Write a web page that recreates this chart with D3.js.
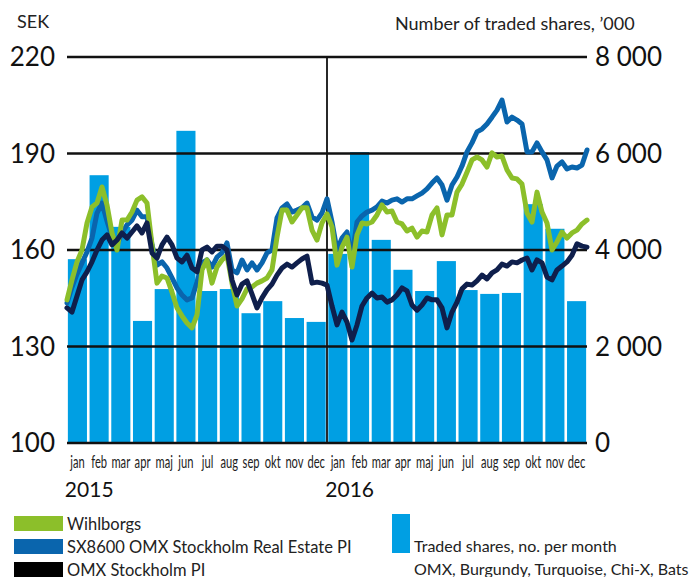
<!DOCTYPE html>
<html>
<head>
<meta charset="utf-8">
<script src="https://cdn.jsdelivr.net/npm/d3@7"></script>
<style>
  body { margin: 0; background: #fff; }
  svg { display: block; font-family: Lato, "Open Sans", sans-serif; }
</style>
</head>
<body>
<svg width="699" height="577"></svg>
<script>
const width = 699;
const height = 577;

const months = ["jan","feb","mar","apr","maj","jun","jul","aug","sep","okt","nov","dec",
                "jan","feb","mar","apr","maj","jun","jul","aug","sep","okt","nov","dec"];
const years = ["2015", "2016"];

// traded shares per month, '000
const traded = [3810, 5550, 4480, 2530, 3190, 6470, 3150, 3190, 2690, 2940, 2590, 2510,
                3920, 6030, 4210, 3590, 3150, 3770, 3170, 3090, 3110, 4950, 4440, 2940];

// weekly closes from 2 Jan 2015, SEK
const wihlborgs = [144.5,150.7,156.3,160.0,168.4,173.4,174.6,179.6,174.0,165.3,160.0,169.3,169.3,171.8,175.5,176.5,174.6,161.6,
  149.7,151.9,151.3,146.9,142.0,139.5,137.3,135.8,139.8,153.8,156.9,149.7,154.7,156.9,158.4,149.7,142.6,144.8,147.9,148.5,
  149.7,150.4,151.3,153.8,164.0,172.4,172.4,168.7,170.9,173.1,173.1,166.2,163.1,168.4,171.2,167.2,155.3,160.9,164.0,154.7,
  164.7,168.4,168.1,168.7,170.9,174.0,171.8,172.1,168.7,168.1,165.9,166.8,164.0,165.9,165.6,170.9,173.1,164.7,170.9,170.9,
  178.0,180.5,184.2,188.0,188.9,188.0,185.8,190.2,188.9,189.2,184.9,182.4,182.1,180.5,171.5,168.7,178.0,171.8,168.4,160.0,
  162.5,165.6,163.7,165.3,166.2,168.1,169.3];

const realEstate = [143.5,148.5,152.5,156.0,159.4,163.7,171.5,174.6,169.0,164.0,161.6,165.3,167.8,169.3,172.4,170.3,170.3,161.6,
  155.3,156.3,154.4,151.3,148.2,146.0,144.5,145.1,150.0,156.0,156.9,154.7,157.8,159.1,162.2,153.8,152.9,156.9,153.8,156.0,
  153.8,156.0,159.1,160.0,170.0,173.1,174.3,171.8,172.4,173.1,174.6,170.3,169.3,171.5,175.9,168.7,160.0,163.7,165.6,157.8,
  168.7,170.6,171.8,172.4,173.4,175.2,174.6,175.5,175.9,174.9,175.9,175.9,176.8,177.7,179.0,180.8,182.4,180.2,175.5,180.2,
  182.7,186.1,190.5,193.3,196.7,197.6,199.2,201.3,203.5,206.6,199.8,201.3,200.4,199.2,190.5,190.5,193.3,190.5,188.0,182.4,
  186.1,187.4,185.2,185.8,185.5,186.4,191.1];

const omx = [142.0,140.7,145.7,150.7,153.2,156.3,160.0,163.1,164.7,161.6,163.1,165.3,163.7,165.6,167.5,165.3,168.4,159.1,
  157.5,161.6,164.0,161.6,157.5,156.3,158.4,154.4,153.2,160.0,160.9,159.4,161.2,161.2,160.0,150.7,146.0,149.4,150.4,146.3,
  142.0,145.1,147.6,149.4,152.2,154.4,155.6,154.7,156.0,157.2,158.1,149.7,150.0,149.7,149.1,142.6,136.7,140.7,137.6,132.0,
  136.7,142.6,145.1,146.6,145.1,145.4,143.8,144.5,146.0,148.2,147.3,142.9,141.3,142.9,145.1,144.5,144.5,142.0,135.8,140.7,
  143.8,147.9,149.4,149.1,150.4,152.2,151.0,152.9,153.8,155.6,155.0,156.3,156.0,156.9,157.5,153.8,156.9,156.0,151.6,150.7,
  153.8,155.0,156.3,158.4,161.9,161.2,160.9];

const leftTicks = [100, 130, 160, 190, 220];
const rightTicks = [0, 2000, 4000, 6000, 8000];

const seriesNames = ["Wihlborgs", "SX8600 OMX Stockholm Real Estate PI", "OMX Stockholm PI"];
const barLegend = ["Traded shares, no. per month", "OMX, Burgundy, Turquoise, Chi-X, Bats"];

const colors = { bar: "#009fe3", green: "#8cbf2a", blue: "#0a65ad", navy: "#0f1f4c" };

const margin = { left: 67, right: 587, top: 57, bottom: 443 };
const svg = d3.select("svg");

const start = new Date(2015, 0, 2);
const dates = wihlborgs.map((d, i) => d3.timeDay.offset(start, 7 * i));

const x = d3.scaleTime()
  .domain([dates[0], dates[dates.length - 1]])
  .range([margin.left, margin.right]);

const xBand = d3.scaleBand()
  .domain(d3.range(months.length))
  .range([margin.left, margin.right])
  .paddingInner(0.12)
  .paddingOuter(0.04);

const yLeft = d3.scaleLinear().domain([100, 220]).range([margin.bottom, margin.top]);
const yRight = d3.scaleLinear().domain([0, 8000]).range([margin.bottom, margin.top]);

const fmt = d3.formatLocale({ decimal: ",", thousands: " ", grouping: [3], currency: ["", ""] }).format(",d");

// bars
svg.append("g")
  .selectAll("rect")
  .data(traded)
  .join("rect")
    .attr("x", (d, i) => xBand(i))
    .attr("y", d => yRight(d))
    .attr("width", xBand.bandwidth())
    .attr("height", d => yRight(0) - yRight(d))
    .attr("fill", colors.bar);

// gridlines
svg.append("g")
  .selectAll("line")
  .data(leftTicks)
  .join("line")
    .attr("x1", margin.left)
    .attr("x2", margin.right)
    .attr("y1", d => yLeft(d))
    .attr("y2", d => yLeft(d))
    .attr("stroke", "#111")
    .attr("stroke-width", 2.6);

// year separator
const sepX = xBand(12) - xBand.step() * xBand.paddingInner() / 2;
svg.append("line")
  .attr("x1", sepX).attr("x2", sepX)
  .attr("y1", yLeft(220)).attr("y2", yLeft(100))
  .attr("stroke", "#111")
  .attr("stroke-width", 1.8);

// lines
const line = d3.line()
  .x((d, i) => x(dates[i]))
  .y(d => yLeft(d))
  .curve(d3.curveLinear);

[[realEstate, colors.blue], [wihlborgs, colors.green], [omx, colors.navy]].forEach(([data, c]) => {
  svg.append("path")
    .datum(data)
    .attr("d", line)
    .attr("fill", "none")
    .attr("stroke", c)
    .attr("stroke-width", 5)
    .attr("stroke-linejoin", "round")
    .attr("stroke-linecap", "round");
});

// left axis labels
svg.append("g")
  .selectAll("text")
  .data(leftTicks)
  .join("text")
    .attr("x", 55)
    .attr("y", d => yLeft(d))
    .attr("dy", "0.35em")
    .attr("text-anchor", "end")
    .attr("font-size", 26)
    .attr("fill", "#111")
    .text(d => d);

// right axis labels
svg.append("g")
  .selectAll("text")
  .data(rightTicks)
  .join("text")
    .attr("x", 595)
    .attr("y", d => yRight(d))
    .attr("dy", "0.35em")
    .attr("text-anchor", "start")
    .attr("font-size", 26)
    .attr("fill", "#111")
    .text(d => fmt(d));

svg.append("text")
  .attr("x", 17).attr("y", 28)
  .attr("font-size", 18)
  .attr("fill", "#222")
  .text("SEK");

svg.append("text")
  .attr("x", 395).attr("y", 30)
  .attr("font-size", 18)
  .attr("fill", "#222")
  .text("Number of traded shares, \u2019000");

// month labels, condensed
svg.append("g")
  .selectAll("text")
  .data(months)
  .join("text")
    .attr("transform", (d, i) => `translate(${xBand(i) + xBand.bandwidth() / 2},468) scale(0.62,1)`)
    .attr("text-anchor", "middle")
    .attr("font-size", 18)
    .attr("fill", "#222")
    .text(d => d);

svg.append("g")
  .selectAll("text")
  .data(years)
  .join("text")
    .attr("x", (d, i) => xBand(i * 12) - 3)
    .attr("y", 497)
    .attr("font-size", 21)
    .attr("fill", "#111")
    .text(d => d);

// legend
const legendColors = [colors.green, colors.blue, "#000"];
const leg = svg.append("g");
seriesNames.forEach((name, i) => {
  leg.append("rect")
    .attr("x", 14).attr("y", 516 + i * 23)
    .attr("width", 49).attr("height", 15)
    .attr("fill", legendColors[i]);
  leg.append("text")
    .attr("x", 67).attr("y", 530 + i * 23)
    .attr("font-size", 16.5)
    .attr("fill", "#222")
    .text(name);
});

leg.append("rect")
  .attr("x", 392).attr("y", 514)
  .attr("width", 18).attr("height", 39)
  .attr("fill", colors.bar);
barLegend.forEach((t, i) => {
  leg.append("text")
    .attr("x", 414).attr("y", 552 + i * 23)
    .attr("font-size", 16)
    .attr("fill", "#222")
    .text(t);
});
</script>
</body>
</html>
